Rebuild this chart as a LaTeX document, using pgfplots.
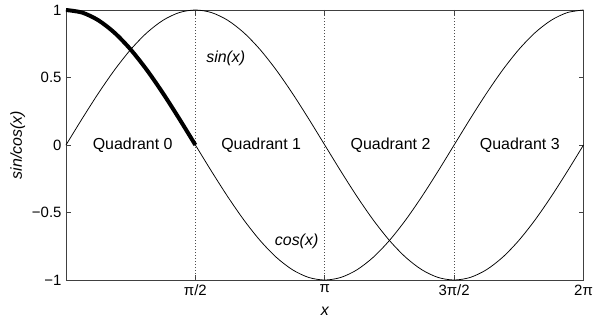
\documentclass[border=0pt]{standalone}
\usepackage{fontspec}
\setmainfont{Liberation Sans}
\usepackage{pgfplots}
\pgfplotsset{compat=1.18}
\usepackage{pgfplotstable}
\pgfplotstableread{
x s c
0 0 1
0.19635 0.19509 0.98079
0.39270 0.38268 0.92388
0.58905 0.55557 0.83147
0.78540 0.70711 0.70711
0.98175 0.83147 0.55557
1.17810 0.92388 0.38268
1.37445 0.98079 0.19509
1.57080 1 0
1.76715 0.98079 -0.19509
1.96350 0.92388 -0.38268
2.15984 0.83147 -0.55557
2.35619 0.70711 -0.70711
2.55254 0.55557 -0.83147
2.74889 0.38268 -0.92388
2.94524 0.19509 -0.98079
3.14159 0 -1
3.33794 -0.19509 -0.98079
3.53429 -0.38268 -0.92388
3.73064 -0.55557 -0.83147
3.92699 -0.70711 -0.70711
4.12334 -0.83147 -0.55557
4.31969 -0.92388 -0.38268
4.51604 -0.98079 -0.19509
4.71239 -1 0
4.90874 -0.98079 0.19509
5.10509 -0.92388 0.38268
5.30144 -0.83147 0.55557
5.49779 -0.70711 0.70711
5.69414 -0.55557 0.83147
5.89049 -0.38268 0.92388
6.08684 -0.19509 0.98079
6.28319 0 1
}\trig
\pgfplotstableread{
x c
0 1
0.19635 0.98079
0.39270 0.92388
0.58905 0.83147
0.78540 0.70711
0.98175 0.55557
1.17810 0.38268
1.37445 0.19509
1.57080 0
}\thick
\begin{document}
\begin{tikzpicture}
\useasboundingbox (-66bp,-42bp) rectangle (528bp,280bp);
\begin{axis}[
  at={(0,0)}, anchor=south west,
  scale only axis,
  width=517.5bp, height=270bp,
  xmin=0, xmax=6.28319, ymin=-1, ymax=1,
  axis line style={black!75, line width=0.9pt},
  tick style={black!75, line width=0.7pt},
  tick align=inside,
  major tick length=5bp,
  xtick={0,1.5708,3.14159,4.71239,6.28319},
  xticklabels={,π/2,π,3π/2,2π},
  ytick={-1,-0.5,0,0.5,1},
  yticklabels={−1,−0.5,0,0.5,1},
  tick label style={font=\fontsize{15}{17}\selectfont},
  xticklabel style={yshift=-1.5bp},
  yticklabel style={xshift=-1bp},
  xlabel={x},
  ylabel={sin/cos(x)},
  label style={font=\fontsize{16}{18}\selectfont\itshape},
  x label style={at={(axis description cs:0.5,-0.117)}, anchor=center},
  y label style={at={(axis description cs:-0.093,0.5)}, anchor=center, rotate=0},
  clip=false,
]
\addplot[black!70, dash pattern=on 0.8bp off 2.2bp, line width=0.7pt] coordinates {(1.5708,-1) (1.5708,1)};
\addplot[black!70, dash pattern=on 0.8bp off 2.2bp, line width=0.7pt] coordinates {(3.14159,-1) (3.14159,1)};
\addplot[black!70, dash pattern=on 0.8bp off 2.2bp, line width=0.7pt] coordinates {(4.71239,-1) (4.71239,1)};
\addplot[black, line width=0.75pt, smooth] table[x=x, y=s] {\trig};
\addplot[black, line width=0.75pt, smooth] table[x=x, y=c] {\trig};
\addplot[black, line width=4pt, smooth] table[x=x, y=c] {\thick};
\node[font=\fontsize{16}{18}\selectfont] at (axis cs:0.81,0) {Quadrant 0};
\node[font=\fontsize{16}{18}\selectfont] at (axis cs:2.37,0) {Quadrant 1};
\node[font=\fontsize{16}{18}\selectfont] at (axis cs:3.94,0) {Quadrant 2};
\node[font=\fontsize{16}{18}\selectfont] at (axis cs:5.51,0) {Quadrant 3};
\node[font=\fontsize{16}{18}\selectfont\itshape] at (axis cs:1.94,0.64) {sin(x)};
\node[font=\fontsize{16}{18}\selectfont\itshape] at (axis cs:2.80,-0.715) {cos(x)};
\end{axis}
\end{tikzpicture}
\end{document}
